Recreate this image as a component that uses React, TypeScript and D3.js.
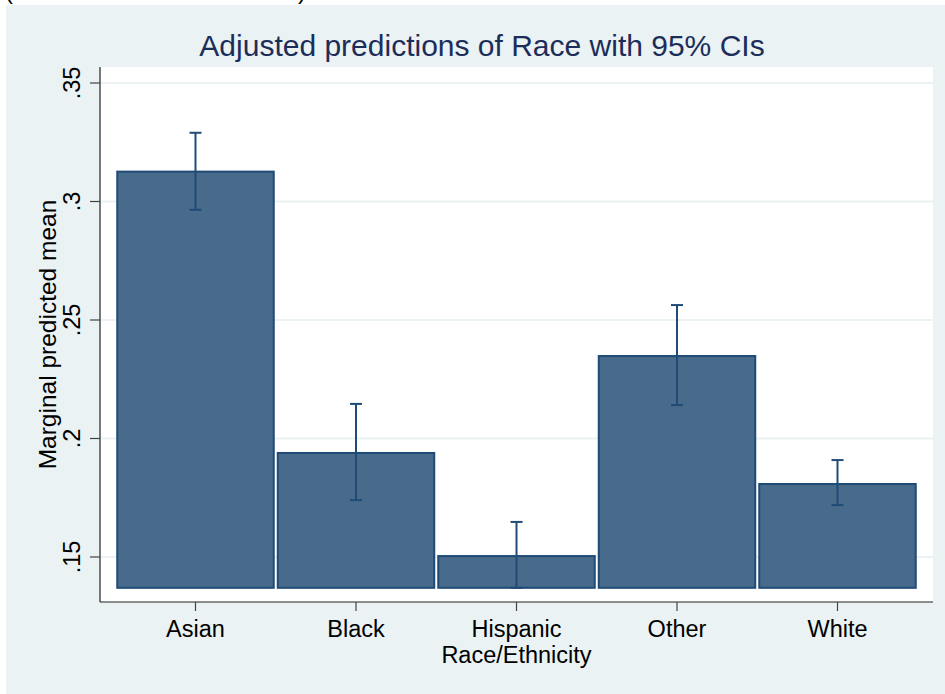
import React from "react";
import * as d3 from "d3";

const categories = ["Asian", "Black", "Hispanic", "Other", "White"];
const means = [0.3126, 0.1939, 0.1504, 0.2348, 0.1808];
const ciLower = [0.2965, 0.174, 0.137, 0.2141, 0.1719];
const ciUpper = [0.329, 0.2146, 0.1648, 0.2563, 0.1909];
const yTicks = [0.15, 0.2, 0.25, 0.3, 0.35];
const yTickLabels = [".15", ".2", ".25", ".3", ".35"];
const title = "Adjusted predictions of Race with 95% CIs";
const xTitle = "Race/Ethnicity";
const yTitle = "Marginal predicted mean";

const W = 945;
const H = 694;
const plotL = 100;
const plotR = 933;
const plotT = 67;
const plotB = 602;

const FONT = "'Liberation Sans', Arial, Helvetica, sans-serif";
const BG = "#EAF2F3";
const BAR = "#486A8B";
const EDGE = "#1F4B76";

export default function App() {
  const baseVal = d3.min(ciLower) as number;
  const y = d3
    .scaleLinear()
    .domain([0.15, 0.35])
    .range([557, 83]);
  const x = d3
    .scaleLinear()
    .domain([0.405, categories.length + 0.595])
    .range([plotL, plotR]);

  return (
    <svg
      width={W}
      height={H}
      style={{ position: "absolute", left: 0, top: 0, display: "block" }}
      fontFamily={FONT}
    >
      <rect x={0} y={0} width={W} height={H} fill="#ffffff" />
      <text x={5} y={-1} fontSize={24} fill="#000">(</text>
      <text x={298} y={-1} fontSize={24} fill="#000">)</text>
      <rect x={6} y={5} width={W - 6} height={H - 5} fill={BG} />
      <rect x={plotL} y={plotT} width={plotR - plotL} height={plotB - plotT} fill="#ffffff" />
      {yTicks.map((t) => (
        <line
          key={"g" + t}
          x1={plotL}
          x2={plotR}
          y1={y(t)}
          y2={y(t)}
          stroke={BG}
          strokeWidth={2}
        />
      ))}
      {categories.map((c, i) => {
        const x0 = x(i + 1 - 0.5) + 2;
        const x1 = x(i + 1 + 0.5) - 2;
        const yt = y(means[i]);
        const yb = y(baseVal);
        return (
          <rect
            key={"b" + c}
            x={x0}
            y={yt}
            width={x1 - x0}
            height={yb - yt}
            fill={BAR}
            stroke={EDGE}
            strokeWidth={2}
          />
        );
      })}
      {categories.map((c, i) => {
        const cx = x(i + 1);
        return (
          <g key={"e" + c} stroke={EDGE} strokeWidth={2}>
            <line x1={cx} x2={cx} y1={y(ciLower[i])} y2={y(ciUpper[i])} />
            <line x1={cx - 6} x2={cx + 6} y1={y(ciLower[i])} y2={y(ciLower[i])} />
            <line x1={cx - 6} x2={cx + 6} y1={y(ciUpper[i])} y2={y(ciUpper[i])} />
          </g>
        );
      })}
      {/* axes */}
      <line x1={plotL} x2={plotL} y1={plotT} y2={plotB} stroke="#222" strokeWidth={1.2} />
      <line x1={plotL} x2={plotR} y1={plotB} y2={plotB} stroke="#222" strokeWidth={1.2} />
      {yTicks.map((t, i) => (
        <g key={"yt" + t}>
          <line x1={plotL - 10} x2={plotL} y1={y(t)} y2={y(t)} stroke="#444" strokeWidth={1.2} />
          <text
            transform={`translate(80, ${y(t)}) rotate(-90)`}
            textAnchor="middle"
            fontSize={23.5}
            fill="#000"
          >
            {yTickLabels[i]}
          </text>
        </g>
      ))}
      {categories.map((c, i) => (
        <g key={"xt" + c}>
          <line x1={x(i + 1)} x2={x(i + 1)} y1={plotB} y2={plotB + 9} stroke="#444" strokeWidth={1.2} />
          <text x={x(i + 1)} y={636.5} textAnchor="middle" fontSize={23.5} fill="#000">
            {c}
          </text>
        </g>
      ))}
      <text x={(plotL + plotR) / 2} y={662.5} textAnchor="middle" fontSize={23.5} fill="#000">
        {xTitle}
      </text>
      <text
        transform={`translate(56, ${(plotT + plotB) / 2}) rotate(-90)`}
        textAnchor="middle"
        fontSize={24.5}
        fill="#000"
      >
        {yTitle}
      </text>
      <text x={482} y={56} textAnchor="middle" fontSize={30} fill="#1C2D5A">
        {title}
      </text>
    </svg>
  );
}
